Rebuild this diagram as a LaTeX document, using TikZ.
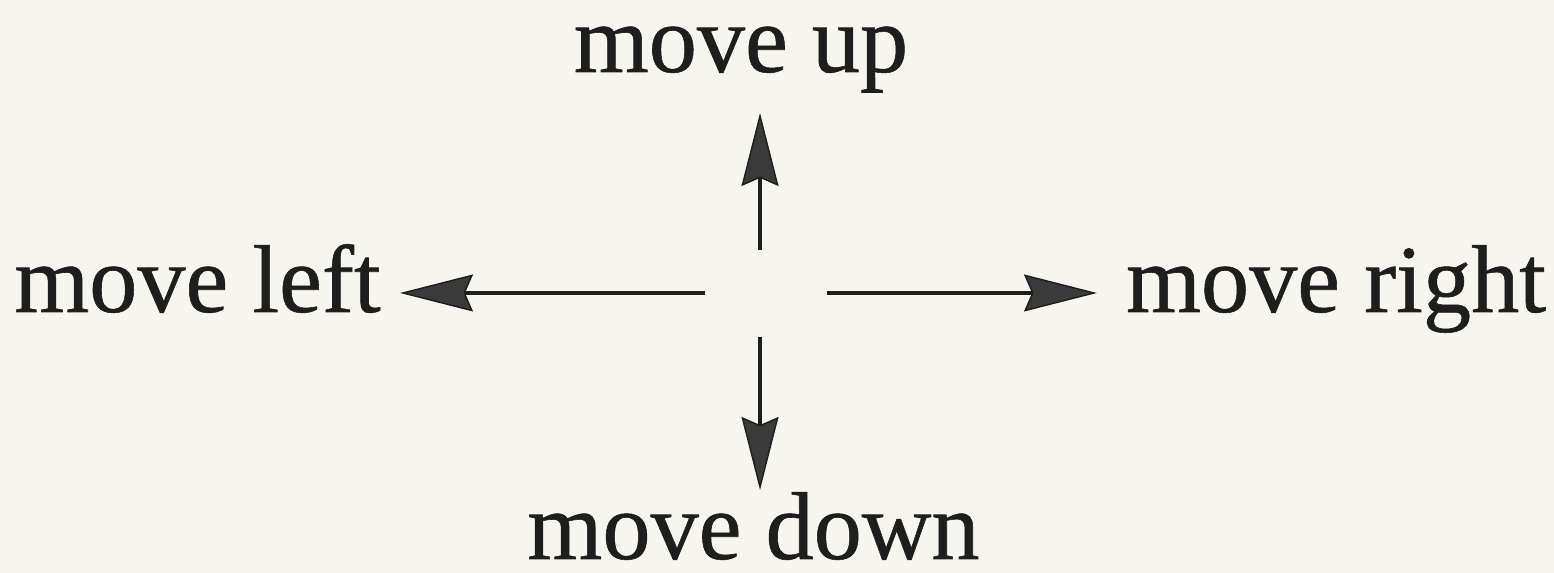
\documentclass[tikz,border=0pt]{standalone}
\usepackage{fontspec}
\setmainfont{Liberation Serif}[FakeBold=0.6]
\usepackage{tikz}
\usetikzlibrary{arrows.meta}
\definecolor{paper}{HTML}{F6F5F0}
\definecolor{ink}{HTML}{1E1E1E}
\definecolor{tipgray}{HTML}{3A3A3A}

\begin{document}
\begin{tikzpicture}[>={Stealth[length=7.3mm, width=3.7mm, inset=0.8mm, fill=tipgray, line width=0.4pt]}]
  \fill[paper] (0,0) rectangle (15.54,5.73);
  \useasboundingbox (0,0) rectangle (15.54,5.73);
  \tikzset{label/.style={anchor=base, inner sep=0pt, text=ink, font=\fontsize{27.4}{32}\selectfont},
           move/.style={->, ink, line width=0.9pt}}
  % labels
  \node[label] (up) at (7.41,5.01) {move up};
  \node[label] (left) at (1.975,2.61) {move left};
  \node[label] (right) at (13.36,2.61) {move right};
  \node[label] (down) at (7.535,0.14) {move down};
  % arrow ends
  \coordinate (upS) at (7.60,3.23);    \coordinate (upE) at (7.60,4.60);
  \coordinate (leftS) at (7.05,2.80);  \coordinate (leftE) at (4.00,2.80);
  \coordinate (rightS) at (8.27,2.80); \coordinate (rightE) at (10.97,2.80);
  \coordinate (downS) at (7.60,2.36);  \coordinate (downE) at (7.60,0.83);
  \foreach \dir in {up,left,right,down}{
    \draw[move] (\dir S) -- (\dir E);
  }
\end{tikzpicture}
\end{document}
